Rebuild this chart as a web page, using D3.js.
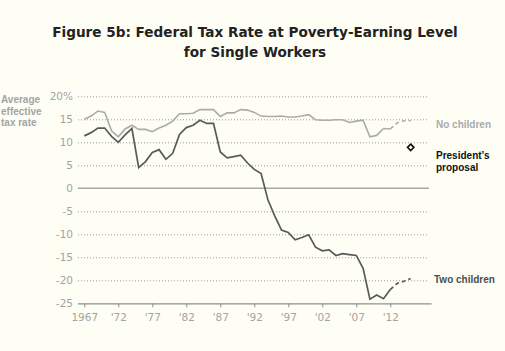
<!DOCTYPE html>
<html>
<head>
<meta charset="utf-8">
<script src="https://cdn.jsdelivr.net/npm/d3@7"></script>
<style>
  body { margin: 0; background: #fefef5; }
  svg { display: block; font-family: "Liberation Sans", Arial, sans-serif; }
  .grid line { stroke: #9a9c98; stroke-dasharray: 1,2; }
  .grid .domain { display: none; }
  .axis text { fill: #a2a4a4; font-size: 10.5px; font-family: "DejaVu Sans", sans-serif; }
</style>
</head>
<body>
<svg id="chart"></svg>
<script>
let w = 505;
let h = 351;

// years and series values
let years = d3.range(1967, 2013);
let noChildren = [15.0, 15.7, 16.8, 16.5, 12.5, 11.2, 12.9, 13.7, 12.8, 12.8,
  12.3, 13.1, 13.7, 14.6, 16.2, 16.2, 16.3, 17.1, 17.1, 17.1,
  15.6, 16.4, 16.4, 17.1, 17.0, 16.5, 15.7, 15.6, 15.6, 15.7,
  15.5, 15.5, 15.7, 16.0, 14.9, 14.8, 14.8, 14.9, 14.9, 14.3,
  14.6, 14.8, 11.2, 11.5, 13.0, 12.9];
let twoChildren = [11.4, 12.1, 13.1, 13.1, 11.3, 10.0, 11.6, 13.0, 4.5, 5.8,
  7.8, 8.4, 6.3, 7.6, 11.7, 13.2, 13.7, 14.8, 14.1, 14.1,
  7.9, 6.6, 6.9, 7.2, 5.5, 4.1, 3.2, -2.5, -6.0, -9.1,
  -9.6, -11.2, -10.7, -10.1, -12.8, -13.6, -13.4, -14.6, -14.2, -14.4,
  -14.6, -17.4, -24.1, -23.2, -24.0, -22.0];

// projected part (dashed)
let projYears = [2012, 2013, 2014, 2015];
let noChildrenProj = [12.9, 14.2, 14.7, 14.7];
let twoChildrenProj = [-22.0, -20.7, -20.2, -19.6];

let proposalYear = 2015;
let proposalValue = 8.9;

let xTicks = [1967, 1972, 1977, 1982, 1987, 1992, 1997, 2002, 2007, 2012];
let yTicks = [-25, -20, -15, -10, -5, 0, 5, 10, 15, 20];

let chart = d3.select("#chart")
  .attr("width", w)
  .attr("height", h);

let xScale = d3.scaleLinear()
  .domain([1966, 2018])
  .range([77.5, 431.1]);

let yScale = d3.scaleLinear()
  .domain([-25, 20])
  .range([303.3, 96.3]);

// title
chart.append("text")
  .attr("x", 255).attr("y", 37)
  .attr("text-anchor", "middle")
  .attr("font-family", "DejaVu Sans, sans-serif")
  .attr("font-size", 13.6).attr("font-weight", "bold")
  .attr("fill", "#222")
  .text("Figure 5b: Federal Tax Rate at Poverty-Earning Level");
chart.append("text")
  .attr("x", 255).attr("y", 57)
  .attr("text-anchor", "middle")
  .attr("font-family", "DejaVu Sans, sans-serif")
  .attr("font-size", 13.6).attr("font-weight", "bold")
  .attr("fill", "#222")
  .text("for Single Workers");

// dotted gridlines
chart.append("g")
  .attr("class", "grid")
  .attr("transform", "translate(78,0)")
  .call(d3.axisRight(yScale).tickValues(yTicks.filter(d => d != 0 && d != -25))
    .tickSize(351).tickFormat(""));

// y labels
chart.append("g")
  .selectAll("text")
  .data(yTicks)
  .join("text")
  .attr("x", 73)
  .attr("y", d => yScale(d) + 4)
  .attr("text-anchor", "end")
  .attr("font-family", "DejaVu Sans, sans-serif")
  .attr("font-size", 10.5)
  .attr("fill", "#a2a4a4")
  .text(d => d == 20 ? "20%" : d);

// zero line
chart.append("line")
  .attr("x1", 78).attr("x2", 429)
  .attr("y1", yScale(0)).attr("y2", yScale(0))
  .attr("stroke", "#a5a8a5").attr("stroke-width", 1.5);

// x axis
let xAxisGroup = chart.append("g")
  .attr("class", "axis")
  .attr("transform", `translate(0, ${yScale(-25)})`)
  .call(d3.axisBottom(xScale)
    .tickValues(xTicks)
    .tickSizeOuter(0)
    .tickSizeInner(4)
    .tickPadding(6)
    .tickFormat(d => d == 1967 ? "1967" : "'" + String(d).slice(2)));
xAxisGroup.select(".domain").attr("stroke", "#8d908d").attr("stroke-width", 1.3);
xAxisGroup.selectAll(".tick line").attr("stroke", "#8d908d");

// lines
let line = d3.line()
  .x(d => xScale(d[0]))
  .y(d => yScale(d[1]));

chart.append("path")
  .datum(years.map((y, i) => [y, noChildren[i]]))
  .attr("fill", "none").attr("stroke", "#a9acab").attr("stroke-width", 1.6)
  .attr("d", line);
chart.append("path")
  .datum(projYears.map((y, i) => [y, noChildrenProj[i]]))
  .attr("fill", "none").attr("stroke", "#a9acab").attr("stroke-width", 1.6)
  .attr("stroke-dasharray", "4,3")
  .attr("d", line);

chart.append("path")
  .datum(years.map((y, i) => [y, twoChildren[i]]))
  .attr("fill", "none").attr("stroke", "#575b59").attr("stroke-width", 1.7)
  .attr("d", line);
chart.append("path")
  .datum(projYears.map((y, i) => [y, twoChildrenProj[i]]))
  .attr("fill", "none").attr("stroke", "#575b59").attr("stroke-width", 1.7)
  .attr("stroke-dasharray", "4,3")
  .attr("d", line);

// president's proposal marker
chart.append("path")
  .attr("d", d3.symbol().type(d3.symbolDiamond2).size(26))
  .attr("transform", `translate(${xScale(proposalYear)},${yScale(proposalValue)})`)
  .attr("fill", "#fefef5").attr("stroke", "#111").attr("stroke-width", 1.6);

// labels
let yTitle = chart.append("text")
  .attr("x", 1).attr("y", 103)
  .attr("font-size", 10).attr("font-weight", "bold")
  .attr("fill", "#a2a4a6");
["Average", "effective", "tax rate"].forEach((t, i) => {
  yTitle.append("tspan").attr("x", 1).attr("dy", i == 0 ? 0 : 11.5).text(t);
});

chart.append("text")
  .attr("x", 436).attr("y", 128)
  .attr("font-size", 10).attr("font-weight", "bold")
  .attr("fill", "#a9acae")
  .text("No children");

let pres = chart.append("text")
  .attr("x", 436).attr("y", 159)
  .attr("font-size", 10).attr("font-weight", "bold")
  .attr("fill", "#111");
pres.append("tspan").attr("x", 436).text("President\u2019s");
pres.append("tspan").attr("x", 436).attr("dy", 11.5).text("proposal");

chart.append("text")
  .attr("x", 434).attr("y", 283)
  .attr("font-size", 10).attr("font-weight", "bold")
  .attr("fill", "#4a4e4c")
  .text("Two children");
</script>
</body>
</html>
